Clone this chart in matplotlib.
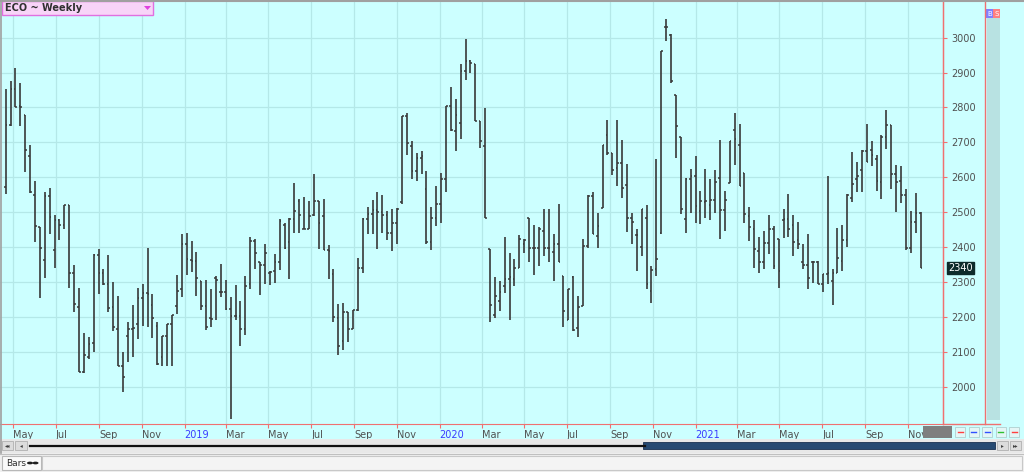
import matplotlib
matplotlib.use('Agg')
import matplotlib.pyplot as plt
import matplotlib.dates as mdates
import matplotlib.transforms as mtransforms
from matplotlib.patches import Rectangle, Polygon
from matplotlib.lines import Line2D
import numpy as np
import pandas as pd

# weekly OHLC (ECO weekly)
first_week = '2018-04-20'
opens = [2572, 2751, 2852, 2803, 2779, 2660, 2548, 2457, 2363, 2546,
         2392, 2477, 2462, 2519, 2325, 2227, 2043, 2084, 2124, 2377,
         2325, 2294, 2227, 2165, 2060, 2146, 2165, 2179, 2254, 2268,
         2235, 2175, 2084, 2146, 2179, 2232, 2279, 2410, 2363, 2360,
         2303, 2230, 2196, 2310, 2272, 2270, 2222, 2203, 2203, 2165,
         2294, 2417, 2356, 2348, 2327, 2332, 2356, 2462, 2415, 2479,
         2532, 2451, 2453, 2491, 2532, 2489, 2392, 2322, 2198, 2132,
         2213, 2165, 2220, 2341, 2479, 2494, 2506, 2500, 2491, 2441,
         2468, 2529, 2774, 2689, 2617, 2655, 2567, 2413, 2484, 2522,
         2594, 2803, 2732, 2755, 2903, 2932, 2924, 2760, 2689, 2394,
         2205, 2246, 2287, 2308, 2308, 2341, 2408, 2484, 2398, 2398,
         2446, 2398, 2386, 2408, 2318, 2192, 2313, 2167, 2232, 2403,
         2546, 2432, 2513, 2722, 2668, 2627, 2641, 2579, 2484, 2434,
         2400, 2484, 2275, 2336, 2441, 3031, 3008, 2836, 2715, 2479,
         2594, 2603, 2503, 2529, 2519, 2536, 2598, 2506, 2584, 2736,
         2693, 2613, 2489, 2451, 2389, 2357, 2411, 2451, 2424, 2477,
         2479, 2462, 2420, 2356, 2348, 2356, 2356, 2294, 2322, 2303,
         2325, 2360, 2420, 2541, 2594, 2620, 2674, 2677, 2651, 2586,
         2715, 2751, 2608, 2589, 2548, 2398, 2472, 2498]
highs = [2852, 2876, 2913, 2870, 2779, 2693, 2589, 2457, 2558, 2568,
         2491, 2479, 2519, 2519, 2349, 2283, 2153, 2141, 2379, 2395,
         2336, 2376, 2300, 2260, 2100, 2186, 2235, 2283, 2294, 2396,
         2265, 2186, 2146, 2179, 2205, 2320, 2436, 2441, 2416, 2386,
         2303, 2306, 2279, 2317, 2351, 2306, 2257, 2290, 2246, 2317,
         2430, 2424, 2356, 2408, 2332, 2379, 2479, 2468, 2484, 2584,
         2538, 2544, 2532, 2608, 2532, 2538, 2405, 2338, 2237, 2239,
         2213, 2220, 2370, 2484, 2515, 2536, 2557, 2548, 2503, 2508,
         2513, 2776, 2784, 2703, 2670, 2674, 2617, 2515, 2576, 2613,
         2805, 2858, 2824, 2925, 2995, 2936, 2924, 2760, 2798, 2394,
         2313, 2303, 2429, 2382, 2367, 2434, 2422, 2484, 2462, 2456,
         2510, 2508, 2436, 2522, 2318, 2281, 2316, 2260, 2422, 2548,
         2557, 2498, 2693, 2763, 2668, 2765, 2708, 2639, 2498, 2453,
         2510, 2519, 2346, 2653, 2963, 3052, 3010, 2836, 2715, 2598,
         2624, 2660, 2560, 2624, 2595, 2622, 2706, 2560, 2703, 2784,
         2752, 2613, 2515, 2477, 2430, 2446, 2491, 2460, 2424, 2508,
         2553, 2491, 2472, 2410, 2436, 2360, 2360, 2322, 2603, 2336,
         2455, 2462, 2551, 2672, 2643, 2677, 2753, 2703, 2665, 2722,
         2792, 2751, 2636, 2632, 2565, 2503, 2555, 2500]
lows = [2553, 2746, 2800, 2748, 2614, 2555, 2415, 2254, 2310, 2436,
        2339, 2420, 2451, 2283, 2215, 2041, 2039, 2079, 2098, 2265,
        2291, 2213, 2160, 2058, 1986, 2070, 2084, 2137, 2173, 2170,
        2138, 2063, 2060, 2060, 2060, 2208, 2257, 2319, 2329, 2260,
        2220, 2162, 2172, 2192, 2256, 2220, 1906, 2190, 2116, 2148,
        2279, 2336, 2262, 2294, 2291, 2298, 2335, 2394, 2308, 2441,
        2441, 2451, 2451, 2489, 2394, 2392, 2308, 2186, 2091, 2106,
        2127, 2165, 2217, 2325, 2436, 2436, 2394, 2441, 2420, 2389,
        2408, 2522, 2665, 2594, 2589, 2608, 2408, 2392, 2460, 2468,
        2557, 2732, 2674, 2710, 2879, 2898, 2760, 2684, 2484, 2186,
        2198, 2218, 2268, 2192, 2287, 2341, 2382, 2356, 2319, 2346,
        2375, 2356, 2303, 2356, 2170, 2192, 2160, 2141, 2232, 2398,
        2436, 2398, 2513, 2665, 2605, 2576, 2541, 2443, 2408, 2332,
        2375, 2281, 2239, 2317, 2436, 2991, 2870, 2655, 2494, 2441,
        2498, 2468, 2465, 2484, 2477, 2498, 2424, 2446, 2584, 2636,
        2575, 2468, 2417, 2341, 2325, 2338, 2381, 2338, 2284, 2427,
        2430, 2373, 2394, 2337, 2281, 2298, 2294, 2270, 2294, 2234,
        2325, 2332, 2401, 2529, 2557, 2557, 2643, 2633, 2560, 2538,
        2681, 2565, 2500, 2527, 2392, 2384, 2439, 2340]
closes = [2751, 2852, 2800, 2801, 2679, 2557, 2460, 2396, 2546, 2486,
          2477, 2462, 2519, 2325, 2237, 2043, 2091, 2121, 2377, 2325,
          2294, 2224, 2170, 2060, 2029, 2165, 2167, 2254, 2268, 2265,
          2198, 2065, 2146, 2179, 2205, 2275, 2410, 2365, 2360, 2310,
          2230, 2170, 2194, 2306, 2270, 2222, 2203, 2203, 2165, 2289,
          2417, 2384, 2348, 2382, 2329, 2356, 2475, 2398, 2479, 2503,
          2491, 2451, 2489, 2532, 2470, 2392, 2389, 2200, 2117, 2213,
          2165, 2220, 2341, 2479, 2494, 2506, 2500, 2491, 2441, 2468,
          2508, 2774, 2698, 2617, 2655, 2662, 2413, 2484, 2522, 2594,
          2803, 2736, 2779, 2903, 2932, 2927, 2760, 2703, 2484, 2234,
          2260, 2270, 2308, 2313, 2341, 2424, 2420, 2398, 2398, 2453,
          2398, 2398, 2408, 2356, 2218, 2281, 2163, 2227, 2403, 2546,
          2436, 2460, 2693, 2668, 2622, 2641, 2570, 2484, 2472, 2434,
          2508, 2294, 2334, 2367, 2963, 3031, 2877, 2748, 2508, 2594,
          2603, 2517, 2532, 2532, 2535, 2586, 2506, 2536, 2703, 2710,
          2575, 2496, 2458, 2395, 2357, 2411, 2451, 2346, 2332, 2479,
          2451, 2413, 2408, 2348, 2310, 2356, 2294, 2322, 2325, 2325,
          2370, 2420, 2548, 2582, 2603, 2674, 2643, 2665, 2589, 2715,
          2751, 2608, 2586, 2548, 2398, 2472, 2498, 2340]

price_ticks = [2000, 2100, 2200, 2300, 2400, 2500, 2600, 2700, 2800, 2900, 3000]
month_ticks = pd.date_range('2018-05-01', '2021-11-01', freq='2MS')

W, H = 1024, 472
CYAN = '#ccffff'
GRID = '#b4e8e8'
RED = '#f07070'
GREY_TXT = '#505050'


def fx(x):
    return x / W


def fy(y):
    return 1 - y / H


def px_rect(fig, x0, y0, x1, y1, **kw):
    fig.patches.append(Rectangle((fx(x0), fy(y1)), fx(x1) - fx(x0), fy(y0) - fy(y1),
                                 transform=fig.transFigure, **kw))


def px_line(fig, xs, ys, **kw):
    fig.lines.append(Line2D([fx(v) for v in xs], [fy(v) for v in ys],
                            transform=fig.transFigure, **kw))


fig = plt.figure(figsize=(W / 100, H / 100), dpi=100, facecolor=CYAN)

# main price panel
ax = fig.add_axes([fx(0), fy(424), fx(943), fy(2) - fy(424)])
ax.set_facecolor(CYAN)

dates = pd.date_range(first_week, periods=len(opens), freq='7D')
xd = mdates.date2num(dates)
tick_w = 2.4  # days

ax.vlines(xd, lows, highs, color='#383838', lw=1.2)
ax.hlines(opens, xd - tick_w, xd, color='#383838', lw=1.1)
ax.hlines(closes, xd, xd + tick_w, color='#383838', lw=1.1)

x0 = mdates.date2num(pd.Timestamp('2018-05-01')) - 13.3 / 0.699
x1 = x0 + 943 / 0.699
ax.set_xlim(x0, x1)
ax.set_ylim(1893, 3102)

ax.set_xticks(mdates.date2num(month_ticks))
labels = []
for d in month_ticks:
    labels.append(str(d.year) if d.month == 1 else d.strftime('%b'))
ax.set_xticklabels(labels)
for lab, d in zip(ax.get_xticklabels(), month_ticks):
    lab.set_horizontalalignment('left')
    lab.set_color('#3a3aff' if d.month == 1 else GREY_TXT)
ax.tick_params(axis='x', direction='out', length=3, color=RED, labelsize=7, pad=1)

ax.yaxis.tick_right()
ax.set_yticks(price_ticks)
ax.tick_params(axis='y', direction='out', length=3, color=RED, labelsize=7,
               labelcolor=GREY_TXT, pad=3)

ax.grid(True, color=GRID, lw=0.9)
ax.set_axisbelow(True)
for s in ['top', 'left']:
    ax.spines[s].set_visible(False)
ax.spines['bottom'].set_color(RED)
ax.spines['right'].set_color(RED)

# last price label
trans = mtransforms.blended_transform_factory(ax.transAxes, ax.transData)
ax.text(1.006, closes[-1], str(closes[-1]), transform=trans, fontsize=7, color='white',
        va='center', ha='left', clip_on=False,
        bbox=dict(boxstyle='square,pad=0.12', fc='#0d2b2b', ec='#0d2b2b'))

# right-side chrome
px_line(fig, [943, 943], [0, 424], color=RED, lw=1)
px_line(fig, [985, 985], [0, 424], color=RED, lw=1)
px_line(fig, [943, 1000], [424, 424], color=RED, lw=1)
px_rect(fig, 987, 9, 1000, 420, fc='#b8e2e2', ec='none')
px_rect(fig, 986, 9, 993, 18, fc='#8080ff', ec='none')
px_rect(fig, 993, 9, 1000, 18, fc='#ff8080', ec='none')
fig.text(fx(989.5), fy(13.5), 'B', fontsize=5, color='white', ha='center', va='center')
fig.text(fx(996.5), fy(13.5), 'S', fontsize=5, color='white', ha='center', va='center')

# title box
px_rect(fig, 2, 1, 153, 15, fc='#f8d4f8', ec='#e070e0', lw=1)
fig.text(fx(5), fy(8), 'ECO ~ Weekly', fontsize=7, color='#303030', va='center',
         fontweight='bold')
fig.patches.append(Polygon([(fx(144), fy(6)), (fx(151), fy(6)), (fx(147.5), fy(10))],
                           closed=True, transform=fig.transFigure, fc='#e040e0', ec='none'))

# bottom chrome
px_rect(fig, 923, 426, 952, 438, fc='#7f7f7f', ec='none')
btn_cols = ['#ff4040', '#3050ff', '#3050ff', '#30c030', '#ff4040']
for i, c in enumerate(btn_cols):
    bx = 955 + i * 13.5
    px_rect(fig, bx, 427, bx + 10, 437, fc='#e4f6f6', ec='#b0d0d0', lw=0.6)
    px_line(fig, [bx + 2.5, bx + 7.5], [432, 432], color=c, lw=1)

px_rect(fig, 0, 439, W, 453, fc='#e8e8e8', ec='none')
px_rect(fig, 2, 441, 13, 450, fc='#dcdcdc', ec='#b0b0b0', lw=0.6)
px_rect(fig, 15, 441, 27, 450, fc='#dcdcdc', ec='#b0b0b0', lw=0.6)
fig.text(fx(7.5), fy(445.5), '◂◂', fontsize=4, ha='center', va='center', color='#404040')
fig.text(fx(21), fy(445.5), '◂', fontsize=4, ha='center', va='center', color='#404040')
px_line(fig, [30, 645], [445.5, 445.5], color='#111111', lw=1.6)
px_rect(fig, 643, 442, 995, 449, fc='#274a72', ec='#1a3050', lw=0.6)
px_rect(fig, 997, 441, 1008, 450, fc='#dcdcdc', ec='#b0b0b0', lw=0.6)
px_rect(fig, 1010, 441, 1021, 450, fc='#dcdcdc', ec='#b0b0b0', lw=0.6)
fig.text(fx(1002.5), fy(445.5), '▸', fontsize=4, ha='center', va='center', color='#404040')
fig.text(fx(1015.5), fy(445.5), '▸▸', fontsize=4, ha='center', va='center', color='#404040')

px_rect(fig, 0, 453, W, H, fc='#f0f0f0', ec='none')
px_line(fig, [0, W], [454, 454], color='#c0c0c0', lw=0.8)
px_rect(fig, 42, 456, 1022, 470, fc='#f4f4f4', ec='#c8c8c8', lw=0.8)
px_rect(fig, 2, 456, 41, 470, fc='#fafafa', ec='#b8b8b8', lw=0.8)
fig.text(fx(6), fy(463), 'Bars', fontsize=6.5, va='center', color='#303030')
fig.patches.append(plt.Circle((fx(30), fy(463)), 3 / W, transform=fig.transFigure,
                              fc='#202020', ec='none'))
fig.patches.append(plt.Circle((fx(35.5), fy(463)), 3 / W, transform=fig.transFigure,
                              fc='#202020', ec='none'))

# outer frame
px_line(fig, [0, W], [0.5, 0.5], color='#a0a0a0', lw=1.5)
px_line(fig, [0.5, 0.5], [0, 453], color='#a0a0a0', lw=1.2)

fig.savefig('out.png', dpi=100, facecolor=fig.get_facecolor())
